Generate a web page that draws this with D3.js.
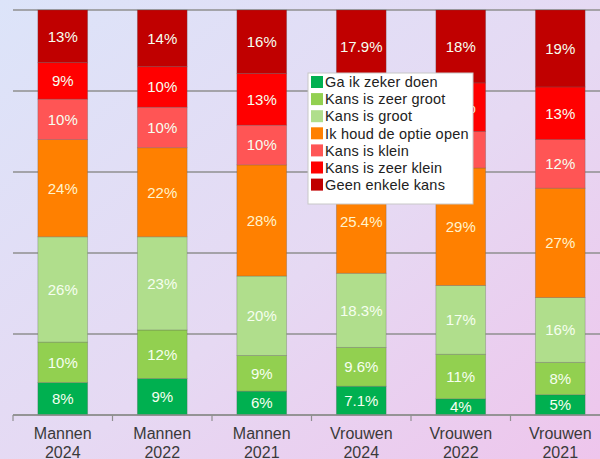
<!DOCTYPE html>
<html>
<head>
<meta charset="utf-8">
<script src="https://cdn.jsdelivr.net/npm/d3@7"></script>
<style>
  body { margin: 0; }
  svg { display: block; font-family: "Liberation Sans", Arial, sans-serif; }
</style>
</head>
<body>
<svg width="600" height="459"></svg>
<script>
// categories (two line labels)
const groups = ["Mannen", "Mannen", "Mannen", "Vrouwen", "Vrouwen", "Vrouwen"];
const years = ["2024", "2022", "2021", "2024", "2022", "2021"];

// series, bottom to top
const seriesNames = ["Ga ik zeker doen", "Kans is zeer groot", "Kans is groot",
    "Ik houd de optie open", "Kans is klein", "Kans is zeer klein", "Geen enkele kans"];
const zekerDoen = [8, 9, 6, 7.1, 4, 5];
const zeerGroot = [10, 12, 9, 9.6, 11, 8];
const groot = [26, 23, 20, 18.3, 17, 16];
const optieOpen = [24, 22, 28, 25.4, 29, 27];
const klein = [10, 10, 10, 10.5, 9, 12];
const zeerKlein = [9, 10, 13, 11.2, 12, 13];
const geenKans = [13, 14, 16, 17.9, 18, 19];
const seriesColors = ["#00b050", "#92d050", "#b0de8c", "#ff8000", "#ff5555", "#ff0000", "#c00000"];

const gridTicks = [0, 0.2, 0.4, 0.6, 0.8, 1];

const allSeries = [zekerDoen, zeerGroot, groot, optieOpen, klein, zeerKlein, geenKans];
const keys = years.map((y, i) => groups[i] + " " + y);
const table = keys.map((k, i) => {
    const row = {cat: k, group: groups[i], year: years[i]};
    seriesNames.forEach((s, j) => row[s] = allSeries[j][i]);
    return row;
});

const svg = d3.select("svg");

// background gradient
const defs = svg.append("defs");
const grad = defs.append("linearGradient")
    .attr("id", "bg")
    .attr("x1", "0").attr("y1", "0")
    .attr("x2", "1").attr("y2", "1");
grad.append("stop").attr("offset", "0%").attr("stop-color", "#dce4f9");
grad.append("stop").attr("offset", "55%").attr("stop-color", "#e6d9f3");
grad.append("stop").attr("offset", "100%").attr("stop-color", "#eec5ec");
svg.append("rect").attr("width", 600).attr("height", 459).attr("fill", "url(#bg)");

const plotLeft = 13, plotRight = 610, plotTop = 10, plotBottom = 415;

const x = d3.scaleBand()
    .domain(keys)
    .range([plotLeft, plotRight])
    .paddingInner(0.5)
    .paddingOuter(0.25);

const y = d3.scaleLinear()
    .domain([0, 1])
    .range([plotBottom, plotTop]);

// gridlines
svg.append("g").selectAll("line")
    .data(gridTicks)
    .enter()
    .append("line")
    .attr("x1", plotLeft)
    .attr("x2", plotRight)
    .attr("y1", d => y(d))
    .attr("y2", d => y(d))
    .attr("stroke", "#8f8f8f")
    .attr("stroke-width", 1.5);

const stack = d3.stack()
    .keys(seriesNames)
    .offset(d3.stackOffsetExpand);
const stacked = stack(table);

const layer = svg.append("g").selectAll("g")
    .data(stacked)
    .enter()
    .append("g")
    .attr("fill", (d, i) => seriesColors[i]);

layer.selectAll("rect")
    .data(d => d)
    .enter()
    .append("rect")
    .attr("x", d => x(d.data.cat))
    .attr("width", x.bandwidth())
    .attr("y", d => y(d[1]))
    .attr("height", d => y(d[0]) - y(d[1]))
    .attr("stroke", "rgba(90,90,90,0.35)")
    .attr("stroke-width", 0.8);

// value labels
const fmt = v => (Number.isInteger(v) ? v : v.toFixed(1)) + "%";
layer.selectAll("text")
    .data(d => d.map(p => ({p: p, key: d.key})))
    .enter()
    .append("text")
    .attr("x", d => x(d.p.data.cat) + x.bandwidth() / 2)
    .attr("y", d => (y(d.p[0]) + y(d.p[1])) / 2)
    .attr("dy", "0.36em")
    .attr("text-anchor", "middle")
    .attr("font-size", "15px")
    .attr("fill", d => d.key === "Ik houd de optie open" ? "#fff3cc" : "#f6fff0")
    .text(d => fmt(d.p.data[d.key]));

// x axis
const axis = svg.append("g");
axis.append("line")
    .attr("x1", plotLeft).attr("x2", plotRight)
    .attr("y1", plotBottom).attr("y2", plotBottom)
    .attr("stroke", "#8f8f8f")
    .attr("stroke-width", 1.5);

axis.selectAll(".tick")
    .data(keys)
    .enter()
    .append("line")
    .attr("x1", d => x(d) - x.bandwidth() / 2)
    .attr("x2", d => x(d) - x.bandwidth() / 2)
    .attr("y1", plotBottom)
    .attr("y2", plotBottom + 6)
    .attr("stroke", "#8f8f8f")
    .attr("stroke-width", 1.2);

const lab = axis.selectAll(".lab")
    .data(table)
    .enter()
    .append("text")
    .attr("x", d => x(d.cat) + x.bandwidth() / 2)
    .attr("y", 439)
    .attr("text-anchor", "middle")
    .attr("font-size", "16px")
    .attr("fill", "#3a3a3a");
lab.append("tspan").text(d => d.group);
lab.append("tspan")
    .attr("x", d => x(d.cat) + x.bandwidth() / 2)
    .attr("dy", 19)
    .text(d => d.year);

// legend (drawn over the bars, as in the original)
const lg = svg.append("g").attr("transform", "translate(308, 73)");
lg.append("rect")
    .attr("width", 165)
    .attr("height", 131)
    .attr("fill", "#ffffff")
    .attr("stroke", "#c8c8c8");

const item = lg.selectAll(".item")
    .data(seriesNames)
    .enter()
    .append("g")
    .attr("transform", (d, i) => `translate(3, ${3 + i * 17.1})`);

item.append("rect")
    .attr("width", 12)
    .attr("height", 12)
    .attr("fill", (d, i) => seriesColors[i]);

item.append("text")
    .attr("x", 14)
    .attr("y", 6)
    .attr("dy", "0.36em")
    .attr("font-size", "14.5px")
    .attr("letter-spacing", "0.2px")
    .attr("fill", "#222")
    .text(d => d);
</script>
</body>
</html>
